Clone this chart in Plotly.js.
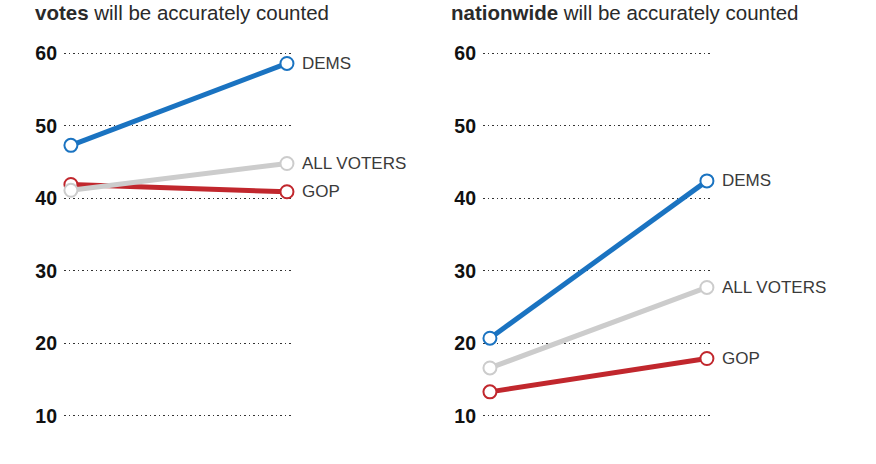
<!DOCTYPE html>
<html>
<head>
<meta charset="utf-8">
<script src="https://cdn.plot.ly/plotly-3.0.1.min.js"></script>
<style>
  html, body { margin: 0; padding: 0; background: #ffffff; }
  #chart { width: 876px; height: 464px; }
</style>
</head>
<body>
<div id="chart"></div>
<script>
// Two slope panels: share of each group confident votes will be counted accurately
var periods = [0, 1];                  // before / after, plotted left to right
var seriesNames = ["GOP", "ALL VOTERS", "DEMS"];
var seriesColors = ["#c1272d", "#cccccc", "#1a73c1"];

// Left panel: "... votes will be accurately counted"
var leftGop = [41.9, 40.9];
var leftAll = [41.1, 44.8];
var leftDems = [47.3, 58.6];

// Right panel: "... nationwide will be accurately counted"
var rightGop = [13.3, 17.9];
var rightAll = [16.6, 27.7];
var rightDems = [20.7, 42.4];

var yTicks = [10, 20, 30, 40, 50, 60];
var yTickText = ["10", "20", "30", "40", "50", "60"];

var leftSeries = [leftGop, leftAll, leftDems];
var rightSeries = [rightGop, rightAll, rightDems];

var W = 876;
var traces = [];
var annotations = [];

function addPanel(series, xa, ya) {
  series.forEach(function (vals, i) {
    traces.push({
      x: periods, y: vals, xaxis: xa, yaxis: ya,
      type: "scatter", mode: "lines+markers",
      line: { color: seriesColors[i], width: 5 },
      marker: { symbol: "circle", size: 13, color: "#ffffff",
                line: { color: seriesColors[i], width: 2 } },
      hoverinfo: "skip", showlegend: false, cliponaxis: false
    });
    annotations.push({
      xref: xa, yref: ya, x: periods[1], y: vals[1],
      text: seriesNames[i], showarrow: false,
      xanchor: "left", yanchor: "middle", xshift: 13,
      font: { family: "Liberation Sans, Arial, sans-serif", size: 17, color: "#3a3a3a" }
    });
  });
}

addPanel(leftSeries, "x", "y");
addPanel(rightSeries, "x2", "y2");

// Panel headings (bold lead word, regular remainder)
var headFont = { family: "Liberation Sans, Arial, sans-serif", size: 20.5, color: "#2a2a2a" };
annotations.push({
  xref: "paper", yref: "paper", x: 33 / W, y: 1, xanchor: "left", yanchor: "top",
  yshift: 1, showarrow: false, align: "left",
  text: "<b>votes</b> will be accurately counted", font: headFont
});
annotations.push({
  xref: "paper", yref: "paper", x: 449 / W, y: 1, xanchor: "left", yanchor: "top",
  yshift: 1, showarrow: false, align: "left",
  text: "<b>nationwide</b> will be accurately counted", font: headFont
});

var yRange = [3.35, 67.35];
var xRange = [-0.032, 1.028];

function yAxis(anchor) {
  return {
    anchor: anchor, range: yRange, domain: [0, 1],
    tickvals: yTicks, ticktext: yTickText,
    showgrid: true, gridcolor: "#333333", gridwidth: 1, griddash: "1.5px,3px",
    zeroline: false, showline: false, ticks: "",
    ticklabelstandoff: 6,
    tickfont: { family: "Liberation Sans, Arial, sans-serif", size: 19.5, color: "#111111", weight: "bold" },
    fixedrange: true
  };
}
function xAxis(dom, anchor) {
  return {
    anchor: anchor, domain: dom, range: xRange,
    showgrid: false, zeroline: false, showline: false, showticklabels: false, ticks: "",
    fixedrange: true
  };
}

var layout = {
  width: 876, height: 464,
  margin: { l: 0, r: 0, t: 0, b: 0 },
  paper_bgcolor: "#ffffff", plot_bgcolor: "rgba(0,0,0,0)",
  xaxis: xAxis([64 / W, 293 / W], "y"),
  yaxis: yAxis("x"),
  xaxis2: xAxis([483 / W, 713 / W], "y2"),
  yaxis2: yAxis("x2"),
  annotations: annotations,
  showlegend: false
};

Plotly.newPlot("chart", traces, layout, { displayModeBar: false, staticPlot: true });
</script>
</body>
</html>
